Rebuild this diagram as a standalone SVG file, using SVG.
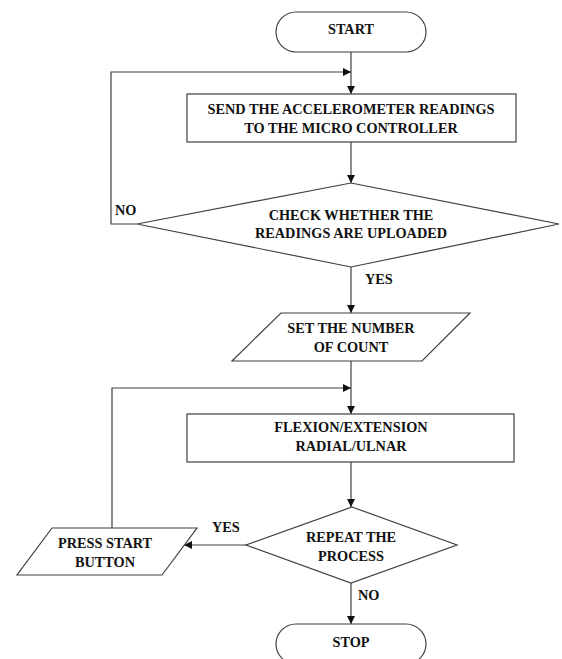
<svg xmlns="http://www.w3.org/2000/svg" width="562" height="659" viewBox="0 0 562 659">
<defs>
<style>
.s{fill:#fff;stroke:#404040;stroke-width:1.2}
.t{font-family:"Liberation Serif","Times New Roman",serif;font-weight:bold;font-size:14.3px;fill:#111;text-anchor:middle}
.l{font-family:"Liberation Serif","Times New Roman",serif;font-weight:bold;font-size:14.3px;fill:#111}
.c{fill:none;stroke:#404040;stroke-width:1.2}
</style>
<marker id="ah" viewBox="0 0 10 10" refX="10" refY="5" markerWidth="8" markerHeight="8" markerUnits="userSpaceOnUse" orient="auto">
<path d="M0,0 L10,5 L0,10 z" fill="#111"/>
</marker>
</defs>
<rect width="562" height="659" fill="#fff"/>
<g id="connectors">
<path class="c" d="M351,52 V94" marker-end="url(#ah)"/>
<path class="c" d="M137,224 H111 V72 H351" marker-end="url(#ah)"/>
<path class="c" d="M351,142 V183" marker-end="url(#ah)"/>
<path class="c" d="M351,267 V313" marker-end="url(#ah)"/>
<path class="c" d="M351,361 V414" marker-end="url(#ah)"/>
<path class="c" d="M112,528 V388 H351" marker-end="url(#ah)"/>
<path class="c" d="M351,462 V507" marker-end="url(#ah)"/>
<path class="c" d="M246,545 H184" marker-end="url(#ah)"/>
<path class="c" d="M351,583 V624" marker-end="url(#ah)"/>
<text class="l" x="115" y="215">NO</text>
<text class="l" x="365" y="283.5">YES</text>
<text class="l" x="212" y="532">YES</text>
<text class="l" x="358" y="600">NO</text>
</g>
<g id="start">
<rect class="s" x="276" y="12" width="150" height="40" rx="20"/>
<text class="t" x="351" y="34">START</text>
</g>
<g id="send">
<rect class="s" x="187" y="94" width="329" height="48"/>
<text class="t" x="351" y="114">SEND THE ACCELEROMETER READINGS</text>
<text class="t" x="351" y="132.5">TO THE MICRO CONTROLLER</text>
</g>
<g id="check">
<polygon class="s" points="351,183 559,224 351,267 137,224"/>
<text class="t" x="351" y="220">CHECK WHETHER THE</text>
<text class="t" x="351" y="238">READINGS ARE UPLOADED</text>
</g>
<g id="setcount">
<polygon class="s" points="281,313 470,313 422,361 232,361"/>
<text class="t" x="351" y="333">SET THE NUMBER</text>
<text class="t" x="351" y="352">OF COUNT</text>
</g>
<g id="flexion">
<rect class="s" x="187" y="414" width="327" height="48"/>
<text class="t" x="351" y="432">FLEXION/EXTENSION</text>
<text class="t" x="351" y="450.5">RADIAL/ULNAR</text>
</g>
<g id="repeat">
<polygon class="s" points="352,507 457,545 351,583 246,545"/>
<text class="t" x="351" y="542">REPEAT THE</text>
<text class="t" x="351" y="561">PROCESS</text>
</g>
<g id="pressstart">
<polygon class="s" points="52,528 197,528 162,575 17,575"/>
<text class="t" x="105" y="548">PRESS START</text>
<text class="t" x="105" y="567">BUTTON</text>
</g>
<g id="stop">
<rect class="s" x="276" y="624" width="150" height="40" rx="20"/>
<text class="t" x="351" y="647">STOP</text>
</g>
</svg>
